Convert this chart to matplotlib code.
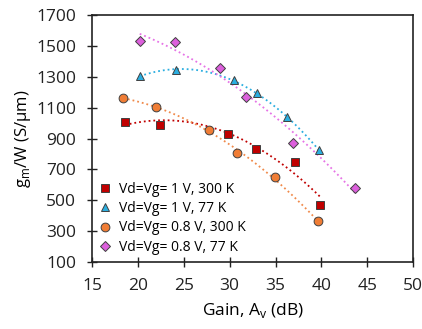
import numpy as np
import matplotlib
matplotlib.use('Agg')
import matplotlib.pyplot as plt

plt.rcParams['font.family'] = ['Open Sans', 'DejaVu Sans']

# data
gain_1v_300 = [18.6, 22.4, 29.8, 32.9, 37.1, 39.9]
gm_1v_300 = [1008, 990, 929, 832, 745, 472]

gain_1v_77 = [20.2, 24.2, 30.5, 33.0, 36.2, 39.7]
gm_1v_77 = [1307, 1342, 1279, 1192, 1039, 828]

gain_08v_300 = [18.4, 22.0, 27.7, 30.8, 34.9, 39.6]
gm_08v_300 = [1160, 1104, 957, 808, 648, 364]

gain_08v_77 = [20.2, 24.0, 28.9, 31.8, 36.9, 43.7]
gm_08v_77 = [1533, 1527, 1354, 1170, 872, 577]

series = [
    (gain_1v_300, gm_1v_300, 's', '#C00000', '#C00000', 'Vd=Vg= 1 V, 300 K'),
    (gain_1v_77, gm_1v_77, '^', '#2BAEE0', '#2BAEE0', 'Vd=Vg= 1 V, 77 K'),
    (gain_08v_300, gm_08v_300, 'o', '#F07D35', '#F08A4B', 'Vd=Vg= 0.8 V, 300 K'),
    (gain_08v_77, gm_08v_77, 'D', '#DC5FDC', '#E673E6', 'Vd=Vg= 0.8 V, 77 K'),
]

fig = plt.figure(figsize=(4.22, 3.29), dpi=100)
ax = fig.add_axes([0.218, 0.204, 0.761, 0.750])

for x, y, m, c, lc, lab in series:
    ms = 5.5 if m == 'D' else 6.3
    ax.plot(x, y, m, color=c, markeredgecolor='#404040', markeredgewidth=0.7,
            markersize=ms, label=lab, zorder=3)
    # 2nd order trendline
    p = np.polyfit(x, y, 2)
    xs = np.linspace(min(x), max(x), 100)
    ax.plot(xs, np.polyval(p, xs), ':', color=lc, linewidth=1.3, zorder=2)

ax.set_xlim(15, 50)
ax.set_ylim(100, 1700)
ax.set_xticks(range(15, 51, 5))
ax.set_yticks(range(100, 1701, 200))
ax.tick_params(direction='inout', length=7, width=1, labelsize=12.5,
               colors='#222222', pad=8)
for s in ax.spines.values():
    s.set_linewidth(1.2)
    s.set_color('#222222')

ax.set_xlabel('Gain, A$_\\mathregular{v}$ (dB)', fontsize=12.5, labelpad=5)
ax.set_ylabel('g$_\\mathregular{m}$/W (S/µm)', fontsize=12, labelpad=2)

leg = ax.legend(loc='lower left', bbox_to_anchor=(-0.01, -0.01), frameon=False,
                fontsize=10, handletextpad=0.5, labelspacing=0.3,
                handlelength=1.0, borderaxespad=0.3)

fig.savefig('out.png', dpi=100)
